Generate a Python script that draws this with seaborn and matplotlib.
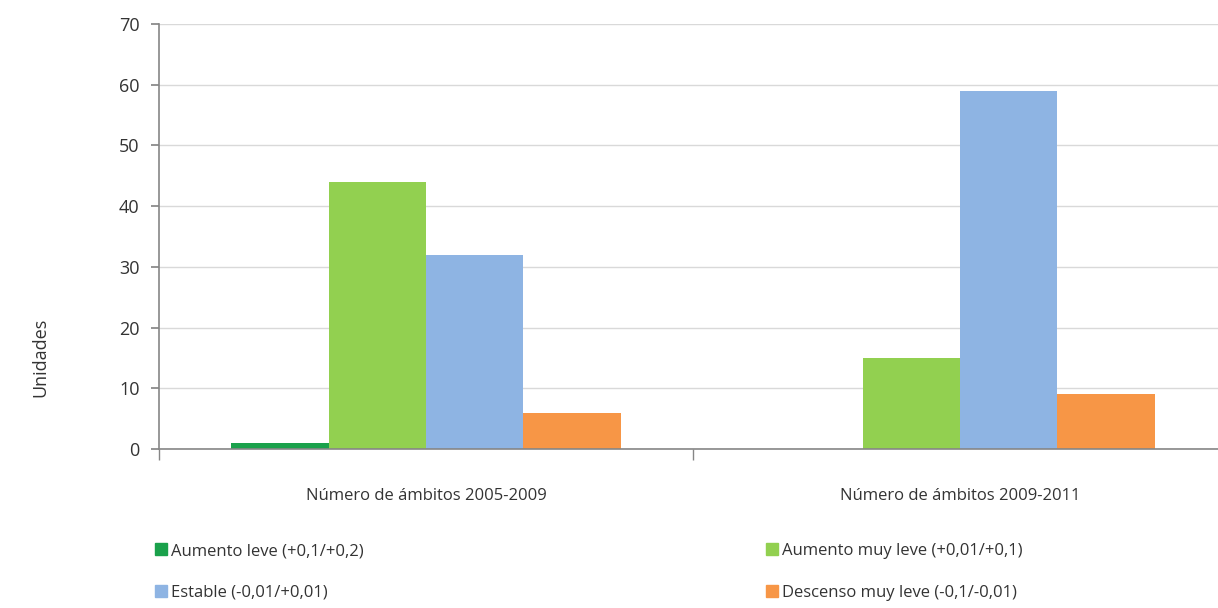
import matplotlib
matplotlib.use("Agg")
import matplotlib.pyplot as plt
import matplotlib.patches as mpatches
import pandas as pd
import seaborn as sns

CATEGORIES = ["Número de ámbitos 2005-2009", "Número de ámbitos 2009-2011"]
SERIES = ["Aumento leve (+0,1/+0,2)", "Aumento muy leve (+0,01/+0,1)",
          "Estable (-0,01/+0,01)", "Descenso muy leve (-0,1/-0,01)"]
VALUES_2005_2009 = [1, 44, 32, 6]
VALUES_2009_2011 = [0, 15, 59, 9]
COLORS = ["#1aa14b", "#92d050", "#8eb4e3", "#f79646"]

rows = []
for cat, vals in zip(CATEGORIES, [VALUES_2005_2009, VALUES_2009_2011]):
    for s, v in zip(SERIES, vals):
        rows.append({"cat": cat, "serie": s, "valor": v})
df = pd.DataFrame(rows)

sns.set_theme(style="white")
plt.rcParams["font.family"] = ["Open Sans", "DejaVu Sans"]

fig = plt.figure(figsize=(12.18, 6.08), dpi=100)
ax = fig.add_axes([159 / 1218, 1 - 449 / 608, 1068 / 1218, 425 / 608])

sns.barplot(data=df, x="cat", y="valor", hue="serie", hue_order=SERIES,
            palette=COLORS, width=0.73, saturation=1, linewidth=0,
            ax=ax, legend=False)

ax.set_ylim(0, 70)
ax.set_yticks(range(0, 71, 10))
ax.set_xlim(-0.5, 1.5)
ax.yaxis.grid(True, color="#d9d9d9", linewidth=1)
ax.set_axisbelow(True)
for side in ["top", "right"]:
    ax.spines[side].set_visible(False)
for side in ["left", "bottom"]:
    ax.spines[side].set_color("#868686")
    ax.spines[side].set_linewidth(1.2)

ax.tick_params(axis="y", left=True, length=6, color="#868686", labelsize=13,
               labelcolor="#333333", pad=8)
ax.tick_params(axis="x", bottom=False, labelsize=12, labelcolor="#333333", pad=22)
# category separator ticks
ax.set_xticks([-0.5, 0.5, 1.5], minor=True)
ax.tick_params(axis="x", which="minor", bottom=True, length=8, color="#868686")

ax.set_xlabel("")
ax.set_ylabel("")
fig.text(40 / 1218, 1 - 357 / 608, "Unidades", rotation=90, ha="center",
         va="center", fontsize=13, color="#333333")

handles = [mpatches.Patch(color=c, label=s) for c, s in zip(COLORS, SERIES)]
leg_kw = dict(frameon=False, fontsize=12, handlelength=0.7, handleheight=0.7,
              handletextpad=0.25, labelspacing=1.55, loc="upper left",
              borderaxespad=0, borderpad=0)
leg1 = fig.legend(handles=[handles[0], handles[2]],
                  bbox_to_anchor=(155 / 1218, 1 - 543 / 608), **leg_kw)
for t in leg1.get_texts():
    t.set_color("#333333")
leg2 = fig.legend(handles=[handles[1], handles[3]],
                  bbox_to_anchor=(766 / 1218, 1 - 543 / 608), **leg_kw)
for t in leg2.get_texts():
    t.set_color("#333333")

fig.savefig("out.png", dpi=100)
